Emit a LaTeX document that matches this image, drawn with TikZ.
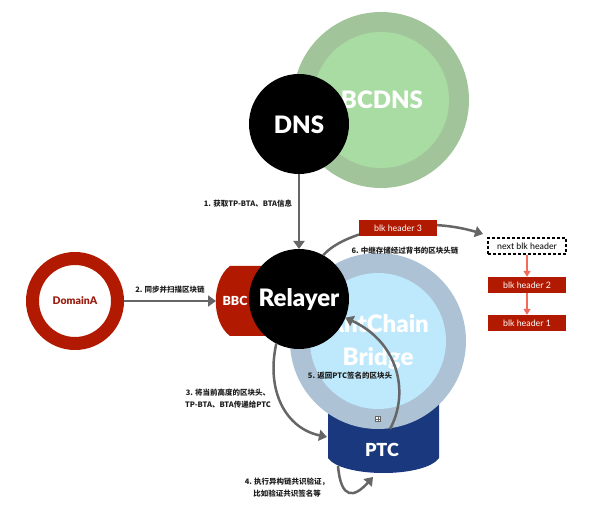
\documentclass[tikz,border=0pt]{standalone}
\usepackage{fontspec}
\setmainfont{Lato}[BoldFont={Lato Black}]
\newfontfamily\cjk{Noto Sans CJK SC}
\usetikzlibrary{arrows.meta}
\definecolor{bcdnsout}{HTML}{A2C49B}
\definecolor{bcdnsin}{HTML}{A9DCA3}
\definecolor{bridgeout}{HTML}{ADC2D5}
\definecolor{bridgein}{HTML}{BEE8FB}
\definecolor{ptcblue}{HTML}{19387E}
\definecolor{redc}{HTML}{B11A00}
\definecolor{domtext}{HTML}{9B1C10}
\definecolor{arrowgray}{HTML}{666666}
\definecolor{salmon}{HTML}{F26B5B}
\definecolor{labelc}{HTML}{1E1E1E}
\begin{document}
\begin{tikzpicture}[x=1pt,y=-1pt,
  lbl/.style={font=\cjk\bfseries\fontsize{7.5}{12}\selectfont, text=labelc, align=center, inner sep=0pt},
  garrow/.style={draw=arrowgray, line width=2.5pt, -{Triangle[length=8pt,width=11pt]}},
  sarrow/.style={draw=salmon, line width=1.8pt, -{Triangle[length=6pt,width=7pt]}},
  blk/.style={fill=redc, text=white, minimum width=78pt, minimum height=16pt, inner sep=0pt, font=\fontsize{8.8}{9}\selectfont},
  bigtxt/.style={text=white, font=\bfseries\fontsize{24}{33}\selectfont, inner sep=0pt},
  disk/.style={circle, inner sep=0pt, outer sep=0pt}]
\useasboundingbox (0,0) rectangle (600,510);
% BCDNS
\node[disk, fill=bcdnsout, minimum size=176pt] (bcdnsO) at (381,100) {};
\node[disk, fill=bcdnsin, minimum size=136pt] (bcdnsI) at (381,100) {};
\node[bigtxt] (bcdns) at (382,100) {BCDNS};
% DNS
\node[disk, fill=black, minimum size=100pt] (dns) at (299,124) {};
\node[bigtxt] (dnst) at (299,125) {DNS};
% PTC
\path[fill=ptcblue] (328,395) -- (439,395) -- (439,458) .. controls (425,478) and (342,478) .. (328,458) -- cycle;
% Bridge
\node[disk, fill=bridgeout, minimum size=176pt] (bridgeO) at (378,341) {};
\node[disk, fill=bridgein, minimum size=136pt] (bridgeI) at (378,341) {};
\node[bigtxt, align=center] (bridge) at (378,342) {AntChain\\Bridge};
\node[text=white, font=\bfseries\fontsize{18}{20}\selectfont, inner sep=0pt] (ptc) at (382,450) {PTC};
% BBC
\path[fill=redc] (230,266) -- (300,266) -- (300,336) -- (230,336) .. controls (211,322) and (211,280) .. (230,266) -- cycle;
\coordinate (bbcW) at (216,301);
\node[text=white, font=\bfseries\fontsize{12.5}{14}\selectfont, inner sep=0pt] (bbc) at (235,301) {BBC};
% Relayer
\node[disk, fill=black, minimum size=100pt] (relayer) at (299,299) {};
\node[bigtxt] (relayert) at (299,299) {Relayer};
% DomainA
\node[circle, draw=redc, line width=13pt, minimum size=85pt, inner sep=0pt, text=domtext, font=\bfseries\fontsize{10.5}{12}\selectfont] (domainA) at (75,301) {DomainA};
% icon
\node[draw=arrowgray, fill=white, line width=0.5pt, minimum size=5pt, inner sep=0pt] (icon) at (378,419) {};
\draw[arrowgray, line width=0.4pt] (icon.north) -- (icon.south) (icon.west) -- (icon.east);
% arrows
\draw[garrow] (dns.south) -- (relayer.north);
\draw[garrow] (domainA.east) -- (bbcW);
\coordinate (ptcL) at (327,437);
\draw[garrow] (relayer.243) .. controls (266,390) and (285,428) .. (ptcL);
\coordinate (ptcT) at (390,429);
\draw[garrow] (ptcT) .. controls (410,392) and (398,342) .. (relayer.-22);
\coordinate (loopS) at (338,466);
\coordinate (loopE) at (373,477);
\draw[garrow] (loopS) .. controls (341,500) and (354,498) .. (loopE);
\coordinate (nextW) at (483,234);
\draw[garrow] (relayer.61) .. controls (345,230) and (420,215) .. (nextW);
% blocks
\node[blk] (b3) at (398,228) {blk header 3};
\node[draw=black, dashed, dash pattern=on 3pt off 2pt, line width=1.3pt, minimum width=78pt, minimum height=16pt, inner sep=0pt, font=\fontsize{8.8}{9}\selectfont] (nextb) at (527,246) {next blk header};
\node[blk] (b2) at (527,285) {blk header 2};
\node[blk] (b1) at (527,323) {blk header 1};
\draw[sarrow] (nextb.south) -- (b2.north);
\draw[sarrow] (b2.south) -- (b1.north);
% labels
\node[lbl] (l1) at (248,204) {1. 获取TP-BTA、BTA信息};
\node[lbl] (l2) at (170,290) {2. 同步并扫描区块链};
\node[lbl] (l3) at (228,399) {3. 将当前高度的区块头、\\TP-BTA、BTA传递给PTC};
\node[lbl] (l4) at (287,488) {4. 执行异构链共识验证，\\比如验证共识签名等};
\node[lbl] (l5) at (350,376) {5. 返回PTC签名的区块头};
\node[lbl] (l6) at (405,251) {6. 中继存储经过背书的区块头链};
\end{tikzpicture}
\end{document}
